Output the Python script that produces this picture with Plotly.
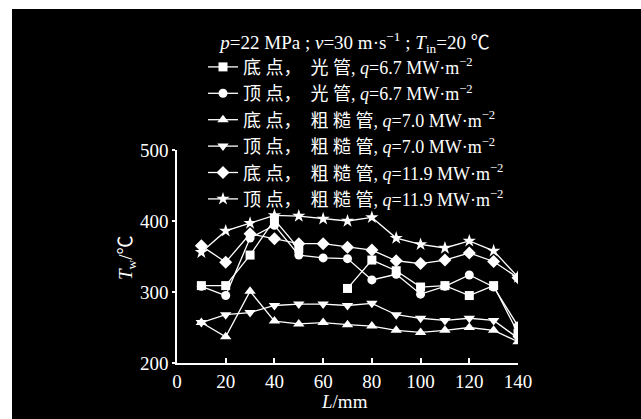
import plotly.graph_objects as go

L = [10, 20, 30, 40, 50, 60, 70, 80, 90, 100, 110, 120, 130, 140]
bottom_smooth = [309, 309, 352, 402, 361, None, 305, 345, 330, 307, 309, 295, 309, 242]
top_smooth = [308, 295, 376, 394, 352, 348, 347, 317, 325, 297, 308, 324, 307, 252]
bottom_rough_70 = [257, 237, 301, 259, 255, 257, 254, 252, 246, 243, 246, 250, 246, 230]
top_rough_70 = [257, 268, 271, 281, 283, 283, 281, 284, 268, 263, 260, 263, 260, 235]
bottom_rough_119 = [365, 342, 382, 375, 368, 368, 363, 359, 344, 340, 345, 355, 343, 320]
top_rough_119 = [356, 386, 397, 408, 407, 403, 400, 405, 376, 367, 362, 372, 358, 321]

names = [
    "底 点，  光 管, <i>q</i>=6.7 MW·m<sup>−2</sup>",
    "顶 点，  光 管, <i>q</i>=6.7 MW·m<sup>−2</sup>",
    "底 点，  粗 糙 管, <i>q</i>=7.0 MW·m<sup>−2</sup>",
    "顶 点，  粗 糙 管, <i>q</i>=7.0 MW·m<sup>−2</sup>",
    "底 点，  粗 糙 管, <i>q</i>=11.9 MW·m<sup>−2</sup>",
    "顶 点，  粗 糙 管, <i>q</i>=11.9 MW·m<sup>−2</sup>",
]
series = [bottom_smooth, top_smooth, bottom_rough_70, top_rough_70, bottom_rough_119, top_rough_119]
symbols = ["square", "circle", "triangle-up", "triangle-down", "diamond", "star"]
sizes = [9, 9, 10, 10, 10, 10]

FONT = "Liberation Serif, Times New Roman, Noto Sans CJK SC, serif"

fig = go.Figure()
for i, (nm, ys, sym, sz) in enumerate(zip(names, series, symbols, sizes)):
    fig.add_trace(go.Scatter(
        x=L, y=ys, name=nm, mode="lines+markers",
        line=dict(color="white", width=1.3),
        marker=dict(symbol=sym, size=sz, color="white", line=dict(width=0)),
        legendgroup=f"g{i}", connectgaps=False,
    ))

W, H = 641, 419
ml, mr, mt, mb = 177, 123, 150, 56
pw, ph = W - ml - mr, H - mt - mb

def px2x(px):
    return (px - ml) / pw

def px2y(py):
    return (H - mb - py) / ph

fig.update_layout(
    width=W, height=H,
    margin=dict(l=ml, r=mr, t=mt, b=mb, pad=0),
    paper_bgcolor="black", plot_bgcolor="black",
    font=dict(family=FONT, color="white", size=18),
    showlegend=True,
    legend=dict(
        x=px2x(203), y=px2y(24), xanchor="left", yanchor="top",
        bgcolor="rgba(0,0,0,0)", font=dict(size=18, family=FONT, color="white"),
        traceorder="grouped", tracegroupgap=0, itemwidth=30,
        title=dict(text="<i>p</i>=22 MPa ; <i>v</i>=30 m·s<sup>−1</sup> ; <i>T</i><sub>in</sub>=20 ℃",
                   side="top center", font=dict(size=19, family=FONT, color="white")),
    ),
    xaxis=dict(
        range=[0, 140], tickvals=[0, 20, 40, 60, 80, 100, 120, 140],
        showline=True, linecolor="white", linewidth=1.5,
        ticks="inside", ticklen=5, tickcolor="white", tickwidth=1.5,
        showgrid=False, zeroline=False, tickfont=dict(size=19),
    ),
    yaxis=dict(
        range=[200, 500], tickvals=[200, 300, 400, 500],
        showline=True, linecolor="white", linewidth=1.5,
        ticks="outside", ticklen=3, tickcolor="white", tickwidth=1.5,
        showgrid=False, zeroline=False, tickfont=dict(size=19),
    ),
    shapes=[
        dict(type="rect", xref="paper", yref="paper", x0=px2x(0), x1=px2x(W), y0=px2y(0), y1=px2y(9),
             fillcolor="white", line=dict(width=0), layer="below"),
        dict(type="rect", xref="paper", yref="paper", x0=px2x(0), x1=px2x(12), y0=px2y(H), y1=px2y(0),
             fillcolor="white", line=dict(width=0), layer="below"),
    ],
    annotations=[
        dict(text="<i>T</i><sub>w</sub>/℃", xref="paper", yref="paper", x=px2x(127), y=px2y(258),
             textangle=-90, showarrow=False, font=dict(size=19), xanchor="center", yanchor="middle"),
        dict(text="<i>L</i>/mm", xref="paper", yref="paper", x=px2x(344), y=px2y(401),
             showarrow=False, font=dict(size=19), xanchor="center", yanchor="middle"),
    ],
)

fig.write_html("out.html")
